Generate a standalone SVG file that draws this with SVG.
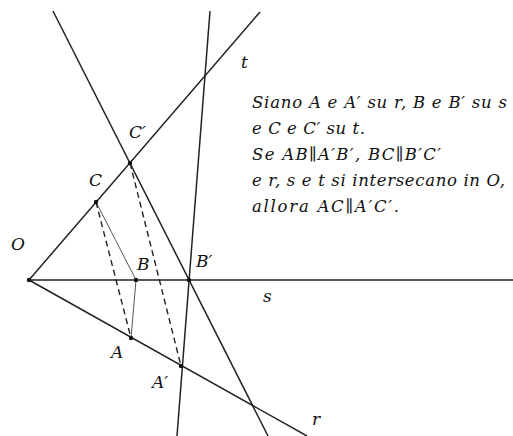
<svg xmlns="http://www.w3.org/2000/svg" width="513" height="436" viewBox="0 0 513 436">
<style>
.ln{stroke:#222;stroke-width:1.5;fill:none;stroke-linecap:butt}
.th{stroke:#444;stroke-width:0.9;fill:none}
.ds{stroke:#222;stroke-width:1.4;fill:none;stroke-dasharray:6 4}
.pt{fill:#111}
.lb{font-family:"DejaVu Serif","Liberation Serif",serif;font-style:italic;font-size:17px;fill:#111}
.tx{font-family:"DejaVu Serif","Liberation Serif",serif;font-style:italic;font-size:16.5px;fill:#111}
</style>
<rect width="513" height="436" fill="#fff"/>
<g id="connectors">
<line class="ln" x1="29" y1="280" x2="513" y2="280"/>
<line class="ln" x1="29" y1="280" x2="260" y2="12"/>
<line class="ln" x1="29" y1="280" x2="307" y2="436"/>
<line class="ln" x1="210" y1="11" x2="177" y2="436"/>
<line class="ln" x1="53" y1="11" x2="268" y2="436"/>
<line class="th" x1="96" y1="202" x2="136" y2="280"/>
<line class="th" x1="136" y1="280" x2="131" y2="338"/>
<line class="ds" x1="96" y1="202" x2="131" y2="338"/>
<line class="ds" x1="130" y1="163" x2="181" y2="366"/>
</g>
<g id="O"><circle class="pt" cx="29" cy="280" r="2.2"/><text class="lb" x="11" y="250">O</text></g>
<g id="C"><circle class="pt" cx="96" cy="202" r="2.2"/><text class="lb" x="89" y="186">C</text></g>
<g id="Cp"><circle class="pt" cx="130" cy="163" r="2.2"/><text class="lb" x="129" y="138">C′</text></g>
<g id="B"><circle class="pt" cx="136" cy="280" r="2.2"/><text class="lb" x="137" y="270">B</text></g>
<g id="Bp"><circle class="pt" cx="189" cy="280" r="2.2"/><text class="lb" x="196" y="267">B′</text></g>
<g id="A"><circle class="pt" cx="131" cy="338" r="2.2"/><text class="lb" x="111" y="358">A</text></g>
<g id="Ap"><circle class="pt" cx="181" cy="366" r="2.2"/><text class="lb" x="152" y="388">A′</text></g>
<g id="t"><text class="lb" x="241" y="68">t</text></g>
<g id="s"><text class="lb" x="263" y="302">s</text></g>
<g id="r"><text class="lb" x="312" y="425">r</text></g>
<g id="statement">
<text class="tx" x="252" y="108" textLength="255" lengthAdjust="spacing">Siano A e A′ su r, B e B′ su s</text>
<text class="tx" x="252" y="134" textLength="113" lengthAdjust="spacing">e C e C′ su t.</text>
<text class="tx" x="252" y="160" textLength="189" lengthAdjust="spacing">Se AB∥A′B′, BC∥B′C′</text>
<text class="tx" x="252" y="186" textLength="253" lengthAdjust="spacing">e r, s e t si intersecano in O,</text>
<text class="tx" x="252" y="212" textLength="147" lengthAdjust="spacing">allora AC∥A′C′.</text>
</g>
</svg>
